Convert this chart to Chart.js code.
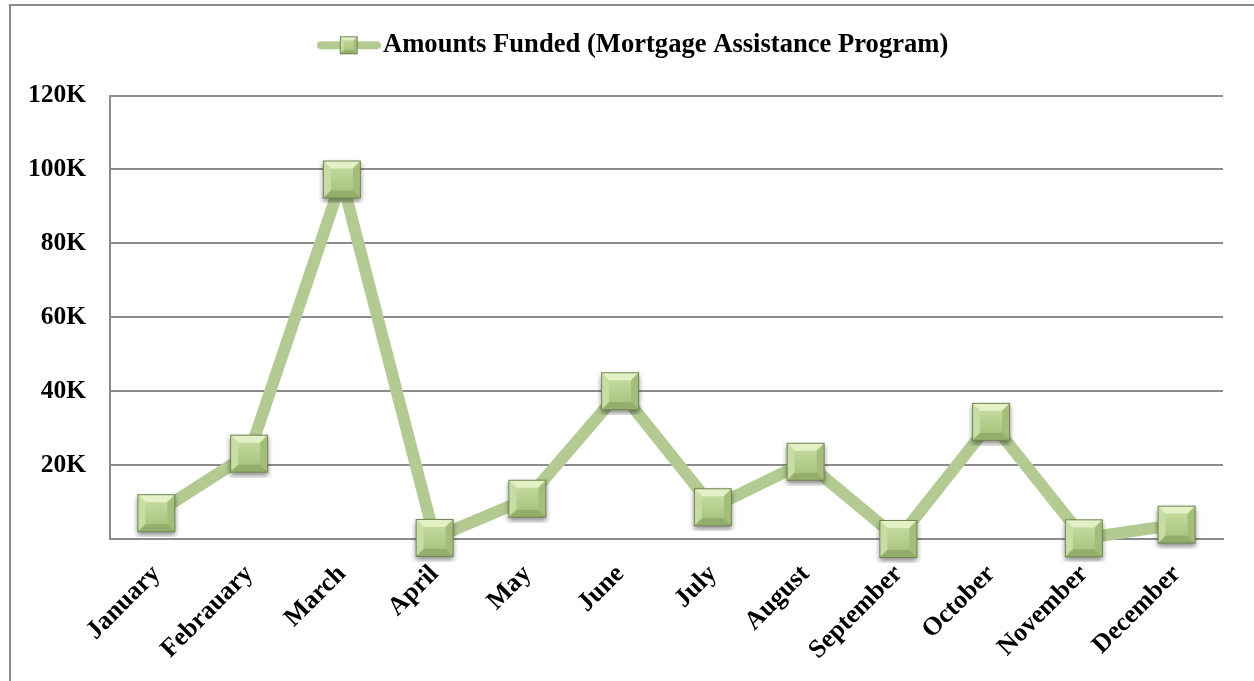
<!DOCTYPE html>
<html><head><meta charset="utf-8">
<script src="https://cdn.jsdelivr.net/npm/chart.js@4.4.0/dist/chart.umd.min.js"></script>
<style>
html,body{margin:0;padding:0;background:#fff;}
#wrap{position:relative;width:1254px;height:681px;overflow:hidden;background:#fff;}
#frame{position:absolute;left:9px;top:4px;width:1300px;height:720px;border-left:2px solid #8c8c8c;border-top:2px solid #8c8c8c;}
#c{position:absolute;left:0;top:0;}
</style></head><body>
<div id="wrap"><div id="frame"></div><canvas id="c" width="1254" height="681"></canvas></div>
<script>
const seriesName = 'Amounts Funded (Mortgage Assistance Program)';
const months = ['January','Febrauary','March','April','May','June','July','August','September','October','November','December'];
const amounts = [7000, 23100, 97300, 300, 10900, 40000, 8600, 20900, 0, 31700, 200, 3900];
const yTickValues = [0, 20000, 40000, 60000, 80000, 100000, 120000];
const yTickLabels = ['', '20K', '40K', '60K', '80K', '100K', '120K'];

const LINE_COLOR = '#b3cb93';
const FONT = 'Liberation Serif, Times New Roman, serif';

function poly(g, color, pts){
  g.beginPath(); g.moveTo(pts[0][0], pts[0][1]);
  for (let i=1;i<pts.length;i++) g.lineTo(pts[i][0], pts[i][1]);
  g.closePath(); g.fillStyle = color; g.fill();
}
function drawMarker(g, x0, y0, s, shadow){
  if (shadow){
    g.save(); g.shadowColor='rgba(0,0,0,0.45)'; g.shadowBlur=5; g.shadowOffsetY=3;
    g.fillStyle='#9cb873'; g.fillRect(x0,y0,s,s); g.restore();
  }
  const b = Math.max(2, Math.round(s*0.2));
  const grad = g.createLinearGradient(0,y0,0,y0+s);
  grad.addColorStop(0,'#c4da9e'); grad.addColorStop(1,'#a6c17b');
  g.fillStyle = grad; g.fillRect(x0,y0,s,s);
  poly(g,'#e4f0c6',[[x0,y0],[x0+s,y0],[x0+s-b,y0+b],[x0+b,y0+b]]);
  poly(g,'#c8dda4',[[x0,y0],[x0+b,y0+b],[x0+b,y0+s-b],[x0,y0+s]]);
  poly(g,'#a3bd7a',[[x0+s,y0],[x0+s,y0+s],[x0+s-b,y0+s-b],[x0+s-b,y0+b]]);
  poly(g,'#93ad6a',[[x0,y0+s],[x0+b,y0+s-b],[x0+s-b,y0+s-b],[x0+s,y0+s]]);
  const ig = g.createLinearGradient(0,y0+b,0,y0+s-b);
  ig.addColorStop(0,'#c2d99c'); ig.addColorStop(1,'#abc681');
  g.fillStyle = ig; g.fillRect(x0+b,y0+b,s-2*b,s-2*b);
  g.strokeStyle='#6f8650'; g.lineWidth=1; g.strokeRect(x0+0.5,y0+0.5,s-1,s-1);
}
function makeMarker(s, pad){
  const c=document.createElement('canvas'); c.width=s+pad*2; c.height=s+pad*2;
  drawMarker(c.getContext('2d'), pad, pad, s, true);
  return c;
}
function makeLegendIcon(){
  const c=document.createElement('canvas'); c.width=64; c.height=22;
  const g=c.getContext('2d');
  g.strokeStyle=LINE_COLOR; g.lineWidth=8; g.lineCap='round';
  g.beginPath(); g.moveTo(4,11); g.lineTo(60,11); g.stroke();
  drawMarker(g, 23, 2, 18, false);
  return c;
}
const markerImg = makeMarker(38, 5);
const legendImg = makeLegendIcon();

new Chart(document.getElementById('c'), {
  type: 'line',
  data: {
    labels: months,
    datasets: [{
      label: seriesName,
      data: amounts,
      borderColor: LINE_COLOR,
      backgroundColor: LINE_COLOR,
      borderWidth: 12,
      borderJoinStyle: 'round',
      borderCapStyle: 'round',
      tension: 0,
      fill: false,
      clip: false,
      pointStyle: markerImg,
      pointRadius: 19,
      pointHoverRadius: 19
    }]
  },
  options: {
    responsive: false,
    animation: false,
    devicePixelRatio: 1,
    layout: { padding: { left: 22, right: 0, top: 2, bottom: 0 } },
    plugins: {
      tooltip: { enabled: false },
      legend: {
        position: 'top',
        labels: {
          usePointStyle: true,
          pointStyleWidth: 42,
          padding: 30,
          color: '#000',
          font: { family: FONT, size: 26.6, weight: 'bold' },
          generateLabels: (chart) => [{
            text: seriesName, pointStyle: legendImg, fillStyle: LINE_COLOR,
            strokeStyle: LINE_COLOR, lineWidth: 0, hidden: false, datasetIndex: 0, fontColor: '#000'
          }]
        }
      }
    },
    scales: {
      x: {
        offset: true,
        grid: { display: false, drawTicks: false },
        border: { color: '#8c8c8c', width: 2 },
        ticks: {
          minRotation: 45, maxRotation: 45, autoSkip: false,
          color: '#000', padding: 20,
          font: { family: FONT, size: 26, weight: 'bold' }
        },
        afterFit: (s) => { s.height = 142; }
      },
      xTopSpacer: {
        type: 'linear', position: 'top', display: true,
        grid: { display: false, drawTicks: false }, border: { display: false },
        ticks: { display: false },
        afterFit: (s) => { s.height = 27; }
      },
      y: {
        min: yTickValues[0], max: yTickValues[yTickValues.length-1],
        afterBuildTicks: (s) => { s.ticks = yTickValues.map(v => ({ value: v })); },
        ticks: {
          color: '#000', padding: 24,
          font: { family: FONT, size: 25.5, weight: 'bold' },
          callback: (v, i) => yTickLabels[i]
        },
        grid: { color: '#8c8c8c', lineWidth: 2, drawTicks: false },
        border: { color: '#8c8c8c', width: 2 },
        afterFit: (s) => { s.width = 88; }
      },
      yRightSpacer: {
        type: 'linear', position: 'right', display: true,
        grid: { display: false, drawTicks: false }, border: { display: false },
        ticks: { display: false },
        afterFit: (s) => { s.width = 28; }
      }
    }
  }
});
</script>
</body></html>
